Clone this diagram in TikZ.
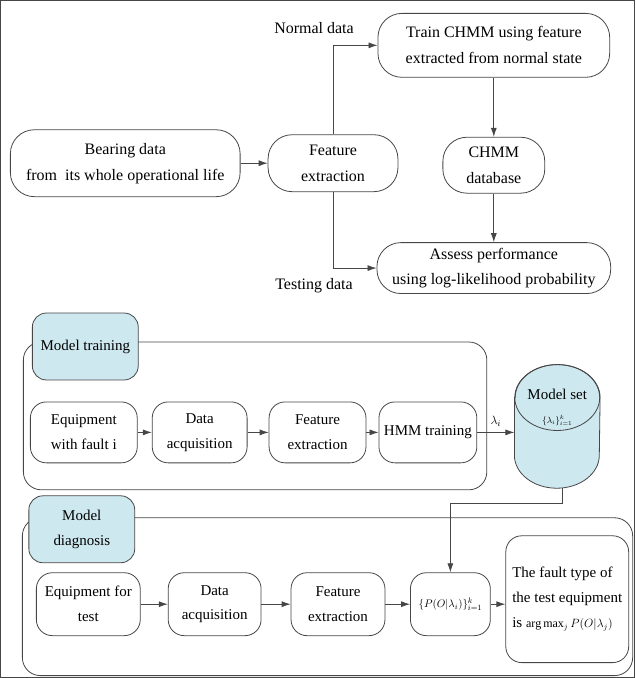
\documentclass[tikz,border=0pt]{standalone}
\usepackage{fontspec}
\setmainfont{Liberation Serif}
\usepackage{amsmath}
\usetikzlibrary{positioning, arrows.meta}
\definecolor{lblblue}{RGB}{206,232,240}
\definecolor{linegray}{RGB}{70,70,70}
\tikzset{
	>={Latex[length=9pt, width=6pt]},
	every path/.style={draw=linegray, line width=0.8pt},
	box/.style={draw=linegray, rounded corners=16pt, align=center, inner sep=1pt,
		font=\fontsize{15}{25}\selectfont, minimum height=61pt},
	topbox/.style={box, rounded corners=24pt, font=\fontsize{16}{26}\selectfont},
	lbl/.style={box, fill=lblblue, rounded corners=14pt, minimum width=106pt, minimum height=67pt},
	frame/.style={draw=linegray, rounded corners=18pt},
	cylbody/.style={draw=linegray, fill=lblblue}}

\begin{document}
\begin{tikzpicture}[x=1pt, y=-1pt]
	\useasboundingbox (0,0) rectangle (635,678);
	
	% life data assessment
	\node[topbox, minimum width=230pt, minimum height=67pt] (bearing) at (125,163) {Bearing data\\from\ \ its whole operational life};
	\node[topbox, right of=bearing, node distance=208pt, minimum width=130pt, minimum height=57pt] (feat) {Feature\\extraction};
	\node[topbox, minimum width=232pt, minimum height=64pt] (train) at (494,45) {Train CHMM using feature\\extracted from normal state};
	\node[topbox, below of=train, node distance=120pt, minimum width=102pt, minimum height=56pt] (chmmdb) {CHMM\\database};
	\node[topbox, below of=chmmdb, node distance=103pt, minimum width=234pt, minimum height=51pt] (assess) {Assess performance\\using log-likelihood probability};
	\node[font=\fontsize{16}{26}\selectfont] (normal) at (314,28) {Normal data};
	\node[font=\fontsize{16}{26}\selectfont] (testing) at (314,286) {Testing data};
	
	\draw[->] (bearing) -- (feat);
	\draw[->] (feat.north) |- (train.west);
	\draw[->] (feat.south) |- (assess.west);
	\draw[->] (train) -- (chmmdb);
	\draw[->] (chmmdb) -- (assess);
	
	% model training
	\draw[frame] (23,342) rectangle (487,490);
	\node[lbl] (trainlbl) at (85,346.5) {Model training};
	\node[box, minimum width=107pt] (equip1) at (83.5,432.5) {Equipment\\with fault i};
	\node[box, right of=equip1, node distance=116pt, minimum width=95pt] (acq1) {Data\\acquisition};
	\node[box, right of=acq1, node distance=118pt, minimum width=97pt] (feat1) {Feature\\extraction};
	\node[box, right of=feat1, node distance=110.5pt, minimum width=98pt] (hmm) {HMM training};
	
	% model set drawn as a cylinder round an empty node
	\node[inner sep=0pt, minimum width=85pt, minimum height=123pt] (models) at (557.5,426.5) {};
	\draw[cylbody] ([yshift=-33pt]models.north west) -- ([yshift=33pt]models.south west)
		arc[start angle=180, end angle=360, x radius=42.5pt, y radius=33pt]
		-- ([yshift=-33pt]models.north east)
		arc[start angle=0, end angle=180, x radius=42.5pt, y radius=33pt] -- cycle;
	\draw ([yshift=-33pt]models.north) ellipse [x radius=42.5pt, y radius=33pt];
	\node[font=\fontsize{15}{25}\selectfont, inner sep=0pt] (msettext) at (557.5,394) {Model set};
	\node[font=\fontsize{9}{10}\selectfont, inner sep=0pt] (msetmath) at (557.5,421) {$\{\lambda_i\}_{i=1}^{k}$};
	
	\draw[->] (equip1) -- (acq1);
	\draw[->] (acq1) -- (feat1);
	\draw[->] (feat1) -- (hmm);
	\draw[->] (hmm.east) -- node[above=2pt, font=\fontsize{13}{14}\selectfont] {$\lambda_i$} (hmm.east -| models.west);
	
	% model diagnosis
	\draw[frame] (22,518) rectangle (633,676);
	\node[lbl] (diaglbl) at (81.5,529.5) {Model\\diagnosis};
	\node[box, minimum width=104pt, minimum height=63pt] (equip2) at (88,604.5) {Equipment for\\test};
	\node[box, right of=equip2, node distance=126.5pt, minimum width=93pt, minimum height=63pt] (acq2) {Data\\acquisition};
	\node[box, right of=acq2, node distance=123.5pt, minimum width=94pt, minimum height=63pt] (feat2) {Feature\\extraction};
	\node[box, right of=feat2, node distance=112.5pt, minimum width=80pt, minimum height=63pt, font=\fontsize{11}{12}\selectfont] (prob) {$\{P(O|\lambda_i)\}_{i=1}^{k}$};
	\node[box, align=left, minimum width=123pt, minimum height=127pt, inner sep=3pt] (result) at (567.5,599.5) {The fault type of\\the test equipment\\is {\fontsize{12}{14}\selectfont$\arg\max_j P(O|\lambda_j)$}};
	
	\draw[->] (equip2) -- (acq2);
	\draw[->] (acq2) -- (feat2);
	\draw[->] (feat2) -- (prob);
	\draw[->] (prob.east) -- (prob.east -| result.west);
	\draw[->] ([xshift=5pt]models.south) -- ++(0,15) -| (prob.north);
\end{tikzpicture}
\end{document}
